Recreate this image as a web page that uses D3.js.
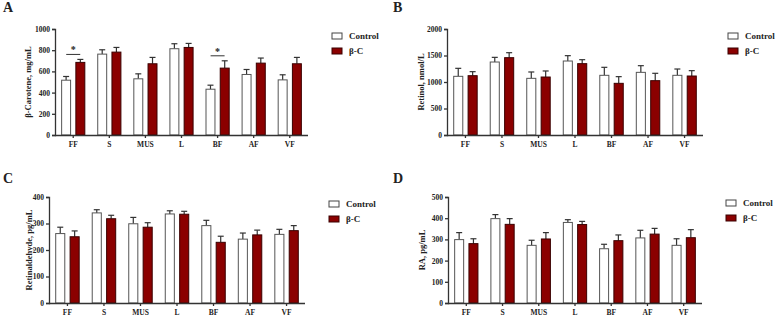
<!DOCTYPE html>
<html lang="en">
<head>
<meta charset="UTF-8">
<title>Retinoid bar charts</title>
<script src="https://d3js.org/d3.v7.min.js"></script>
<style>
  body { margin: 0; background: #fff; }
  text { font-family: "Liberation Serif", "DejaVu Serif", serif; font-weight: bold; fill: #222; }
</style>
</head>
<body>
<div id="chart"></div>
<script>
// Categories and series
const categories = ["FF", "S", "MUS", "L", "BF", "AF", "VF"];
const seriesNames = ["Control", "β-C"];

// Panel A: beta-carotene
const aControl = [517, 763, 530, 814, 432, 571, 520];
const aControlErr = [35, 41, 47, 47, 38, 47, 48];
const aBC = [685, 782, 672, 826, 631, 678, 672];
const aBCErr = [28, 44, 60, 38, 69, 48, 60];
const aTicks = [0, 200, 400, 600, 800, 1000];

// Panel B: retinol
const bControl = [1107, 1377, 1069, 1396, 1126, 1182, 1126];
const bControlErr = [151, 88, 120, 101, 151, 126, 119];
const bBC = [1119, 1459, 1094, 1346, 975, 1025, 1113];
const bBCErr = [76, 94, 114, 75, 126, 139, 101];
const bTicks = [0, 500, 1000, 1500, 2000];

// Panel C: retinaldehyde
const cControl = [262, 340, 299, 336, 292, 241, 259];
const cControlErr = [24, 12, 24, 12, 20, 23, 19];
const cBC = [250, 318, 286, 335, 229, 257, 273];
const cBCErr = [22, 13, 17, 11, 23, 18, 19];
const cTicks = [0, 100, 200, 300, 400];

// Panel D: retinoic acid
const dControl = [299, 398, 272, 380, 256, 307, 272];
const dControlErr = [33, 19, 24, 13, 21, 36, 31];
const dBC = [280, 371, 302, 370, 294, 325, 308];
const dBCErr = [23, 27, 30, 15, 27, 27, 38];
const dTicks = [0, 100, 200, 300, 400, 500];

// Significance marks (panel A only)
const aSignif = ["FF", "BF"];

const fills = ["#ffffff", "#8b0000"];
const strokes = ["#555", "#3a0000"];

const svg = d3.select("#chart").append("svg")
  .attr("width", 777)
  .attr("height", 318);

function drawPanel(p) {
  const g = svg.append("g");

  const x = d3.scaleBand()
    .domain(categories)
    .range([p.x0, p.x1])
    .paddingInner(0.33)
    .paddingOuter(0.17);

  const xSub = d3.scaleBand()
    .domain([0, 1])
    .range([0, x.bandwidth()])
    .paddingInner(0.3);

  const y = d3.scaleLinear()
    .domain([0, p.ticks[p.ticks.length - 1]])
    .range([p.y1, p.y0]);

  const rows = categories.map((c, i) => ({
    cat: c,
    vals: [
      { s: 0, v: p.ctrl[i], e: p.ctrlErr[i] },
      { s: 1, v: p.bc[i], e: p.bcErr[i] }
    ]
  }));

  const groups = g.selectAll(".grp")
    .data(rows)
    .enter().append("g")
    .attr("transform", d => `translate(${x(d.cat)},0)`);

  const bars = groups.selectAll(".bar")
    .data(d => d.vals)
    .enter().append("g");

  // error bars (upper only, with cap)
  bars.append("line")
    .attr("x1", d => xSub(d.s) + xSub.bandwidth() / 2)
    .attr("x2", d => xSub(d.s) + xSub.bandwidth() / 2)
    .attr("y1", d => y(d.v))
    .attr("y2", d => y(d.v + d.e))
    .attr("stroke", "#333")
    .attr("stroke-width", 1.2);

  bars.append("line")
    .attr("x1", d => xSub(d.s) + xSub.bandwidth() / 2 - 3)
    .attr("x2", d => xSub(d.s) + xSub.bandwidth() / 2 + 3)
    .attr("y1", d => y(d.v + d.e))
    .attr("y2", d => y(d.v + d.e))
    .attr("stroke", "#333")
    .attr("stroke-width", 1.2);

  bars.append("rect")
    .attr("x", d => xSub(d.s) + 0.5)
    .attr("y", d => y(d.v))
    .attr("width", xSub.bandwidth() - 1)
    .attr("height", d => y(0) - y(d.v))
    .attr("fill", d => fills[d.s])
    .attr("stroke", d => strokes[d.s])
    .attr("stroke-width", 1);

  // y axis
  const yAxis = g.append("g")
    .attr("transform", `translate(${p.x0},0)`)
    .call(d3.axisLeft(y).tickValues(p.ticks).tickFormat(d3.format("d")).tickSize(3).tickPadding(2));

  // x axis
  const xAxis = g.append("g")
    .attr("transform", `translate(0,${p.y1})`)
    .call(d3.axisBottom(x).tickSize(3).tickPadding(4).tickSizeOuter(0));
  xAxis.select(".domain").attr("d", `M${p.x0},0.5H${p.x1}`);

  [yAxis, xAxis].forEach(a => {
    a.select(".domain").attr("stroke", "#333").attr("stroke-width", 1.3);
    a.selectAll(".tick line").attr("stroke", "#333").attr("stroke-width", 1.3);
    a.selectAll("text")
      .style("font-family", "'Liberation Serif', serif")
      .style("font-weight", "bold")
      .style("font-size", "7.5px")
      .attr("fill", "#222");
  });

  // y label
  g.append("text")
    .attr("transform", "rotate(-90)")
    .attr("x", -(p.y0 + p.y1) / 2)
    .attr("y", p.labelX)
    .style("text-anchor", "middle")
    .style("font-size", "8.5px")
    .text(p.label);

  // panel letter
  g.append("text")
    .attr("x", p.letterX)
    .attr("y", p.letterY)
    .style("font-size", "14px")
    .text(p.letter);

  // significance bars
  (p.signif || []).forEach(c => {
    const cx = x(c) + x.bandwidth() / 2;
    const i = categories.indexOf(c);
    const top = y(Math.max(p.ctrl[i] + p.ctrlErr[i], p.bc[i] + p.bcErr[i])) - 5;
    g.append("line")
      .attr("x1", cx - 7).attr("x2", cx + 7)
      .attr("y1", top).attr("y2", top)
      .attr("stroke", "#333").attr("stroke-width", 1);
    g.append("text")
      .attr("x", cx)
      .attr("y", top - 1)
      .style("text-anchor", "middle")
      .style("font-size", "10px")
      .text("*");
  });

  // legend
  const lg = g.append("g").attr("transform", `translate(${p.legX},${p.legY})`);
  seriesNames.forEach((n, i) => {
    lg.append("rect")
      .attr("x", 0).attr("y", i * 15 - 3)
      .attr("width", 10).attr("height", 6)
      .attr("fill", fills[i])
      .attr("stroke", i === 0 ? "#444" : "#3a0000")
      .attr("stroke-width", 1);
    lg.append("text")
      .attr("x", 17).attr("y", i * 15 + 3)
      .style("font-size", "9px")
      .text(n);
  });
}

drawPanel({
  letter: "A", letterX: 3, letterY: 12,
  label: "β-Carotene, mg/mL", labelX: 31,
  x0: 55, x1: 308, y0: 29, y1: 135,
  ctrl: aControl, ctrlErr: aControlErr, bc: aBC, bcErr: aBCErr,
  ticks: aTicks, signif: aSignif,
  legX: 332, legY: 36
});

drawPanel({
  letter: "B", letterX: 393, letterY: 12,
  label: "Retinol, nmol/L", labelX: 424,
  x0: 447, x1: 703, y0: 29, y1: 135,
  ctrl: bControl, ctrlErr: bControlErr, bc: bBC, bcErr: bBCErr,
  ticks: bTicks,
  legX: 728, legY: 36
});

drawPanel({
  letter: "C", letterX: 3, letterY: 183,
  label: "Retinaldehyde, pg/mL", labelX: 32,
  x0: 49, x1: 305, y0: 197, y1: 303,
  ctrl: cControl, ctrlErr: cControlErr, bc: cBC, bcErr: cBCErr,
  ticks: cTicks,
  legX: 329, legY: 204
});

drawPanel({
  letter: "D", letterX: 393, letterY: 183,
  label: "RA, pg/mL", labelX: 425,
  x0: 448, x1: 702, y0: 197, y1: 303,
  ctrl: dControl, ctrlErr: dControlErr, bc: dBC, bcErr: dBCErr,
  ticks: dTicks,
  legX: 726, legY: 203
});
</script>
</body>
</html>
